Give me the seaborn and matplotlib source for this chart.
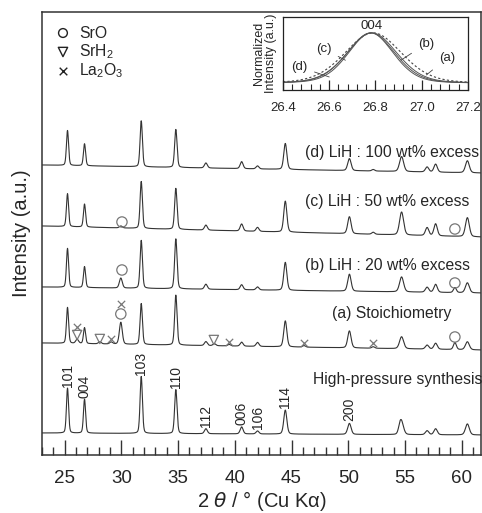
import numpy as np
import pandas as pd
import seaborn as sns
import matplotlib.pyplot as plt
from matplotlib.ticker import MultipleLocator

# reflections of the main phase (2theta in deg) and their widths
peak_pos = [25.25, 26.75, 31.75, 34.8, 37.45, 40.6, 42.0, 44.45, 50.1, 54.7, 56.95, 57.7, 60.5]
peak_fwhm = [0.22, 0.22, 0.24, 0.25, 0.3, 0.3, 0.3, 0.32, 0.35, 0.42, 0.35, 0.35, 0.4]
hkl = ["101", "004", "103", "110", "112", "006", "106", "114", "200"]
hkl_pos = [25.25, 26.75, 31.75, 34.8, 37.45, 40.6, 42.0, 44.45, 50.1]

# peak heights (arb. units)
hp_height = [45, 34, 57, 44, 5, 7, 3, 24, 11, 12, 4, 6, 11]
a_height = [36, 16, 41, 50, 4, 4, 4, 26, 17, 12, 4, 6, 8]
b_height = [39, 21, 48, 50, 5, 5, 3, 28, 17, 15, 5, 8, 10]
c_height = [33, 23, 47, 41, 5, 7, 4, 31, 17, 23, 8, 12, 19]
d_height = [35, 22, 46, 38, 5, 7, 3, 26, 12, 15, 5, 8, 12]

# impurity peaks (position, height)
hp_extra = [(54.55, 5)]
a_extra = [(26.1, 4), (28.1, 2), (29.1, 2), (29.95, 22), (38.2, 2), (39.5, 1.5), (46.1, 1.5), (52.2, 1.5), (59.4, 7)]
b_extra = [(29.95, 10), (59.4, 5)]
c_extra = [(29.95, 2), (52.2, 2)]
d_extra = [(52.2, 1.5)]

names = ["High-pressure synthesis", "(a) Stoichiometry", "(b) LiH : 20 wt% excess",
         "(c) LiH : 50 wt% excess", "(d) LiH : 100 wt% excess"]
heights = [hp_height, a_height, b_height, c_height, d_height]
extras = [hp_extra, a_extra, b_extra, c_extra, d_extra]
base_left = [22, 112, 168, 229, 290]
base_right = [20, 105, 162, 218, 282]
label_x = [46.9, 48.6, 46.15, 46.15, 46.15]
label_y = [75, 141, 189, 253, 302]

# impurity markers
sro_x = [29.95, 59.4, 30.05, 59.4, 30.05, 59.4]
sro_y = [141, 118, 185, 172, 233, 226]
srh2_x = [26.1, 28.1, 38.15]
srh2_y = [120, 116, 115]
la2o3_x = [26.1, 29.1, 29.95, 39.5, 46.1, 52.2]
la2o3_y = [128, 116, 151, 113, 112, 112]

# inset: normalized 004 peak
inset_names = ["(a)", "(b)", "(c)", "(d)"]
inset_center = [26.79, 26.785, 26.78, 26.78]
inset_fwhm = [0.29, 0.255, 0.245, 0.23]


def profile(x, pos, h, w):
    g = np.exp(-4 * np.log(2) * ((x - pos) / w) ** 2)
    lo = 1 / (1 + 4 * ((x - pos) / w) ** 2)
    return h * (0.75 * g + 0.25 * lo)


sns.set_style("ticks")
plt.rcParams['font.family'] = ['Liberation Sans', 'DejaVu Sans']
plt.rcParams['mathtext.default'] = 'regular'

fig = plt.figure(figsize=(4.82, 5.13), dpi=100)
ax = fig.add_axes([0.0871, 0.1131, 0.9108, 0.8635])

x = np.linspace(23, 61.7, 4000)
for i, name in enumerate(names):
    y = base_left[i] + (base_right[i] - base_left[i]) * (x - 23) / (61.7 - 23)
    for p, h, w in zip(peak_pos, heights[i], peak_fwhm):
        y = y + profile(x, p, h, w)
    for p, h in extras[i]:
        y = y + profile(x, p, h, 0.3)
    df = pd.DataFrame({"two_theta": x, "intensity": y})
    sns.lineplot(data=df, x="two_theta", y="intensity", ax=ax, color="#333333", lw=0.8)
    ax.text(label_x[i], label_y[i], name, fontsize=11.3, ha="left", va="center")

for p, lab in zip(hkl_pos, hkl):
    j = peak_pos.index(p)
    ax.text(p, base_left[0] + hp_height[j] + 1, lab, rotation=90, fontsize=10,
            ha="center", va="bottom")

sns.scatterplot(x=sro_x, y=sro_y, ax=ax, marker="o", s=55, facecolor="none",
                edgecolor="#777777", linewidth=0.9, zorder=3)
sns.scatterplot(x=srh2_x, y=srh2_y, ax=ax, marker="v", s=45, facecolor="none",
                edgecolor="#777777", linewidth=0.9, zorder=3)
sns.scatterplot(x=la2o3_x, y=la2o3_y, ax=ax, marker="x", s=28, color="#777777",
                linewidth=0.9, zorder=3)

# key in the upper left
key_y = [422, 403, 384]
sns.scatterplot(x=[24.85], y=[key_y[0]], ax=ax, marker="o", s=40, facecolor="none",
                edgecolor="#222222", linewidth=1.0)
sns.scatterplot(x=[24.85], y=[key_y[1]], ax=ax, marker="v", s=45, facecolor="none",
                edgecolor="#222222", linewidth=1.0)
sns.scatterplot(x=[24.85], y=[key_y[2]], ax=ax, marker="x", s=30, color="#222222",
                linewidth=1.0)
for txt, yy in zip(["SrO", "SrH$_2$", "La$_2$O$_3$"], key_y):
    ax.text(26.25, yy, txt, fontsize=11.3, va="center", ha="left")

ax.set_xlim(23, 61.7)
ax.set_ylim(0, 443)
ax.xaxis.set_major_locator(MultipleLocator(5))
ax.xaxis.set_minor_locator(MultipleLocator(1))
ax.tick_params(axis="x", which="major", direction="in", length=11, width=1,
               labelsize=13.5, pad=11, color="#333333")
ax.tick_params(axis="x", which="minor", direction="in", length=6, width=1, color="#333333")
ax.set_yticks([])
ax.set_xlabel("2 $\\it{\\theta}$ / ° (Cu K\u03b1)", fontsize=14.5, labelpad=1)
ax.set_ylabel("Intensity (a.u.)", fontsize=14.5, labelpad=8)
for s in ax.spines.values():
    s.set_linewidth(1.1)
    s.set_color("#333333")

# inset
ins = fig.add_axes([0.5871, 0.8236, 0.3838, 0.1433])
xi = np.linspace(26.4, 27.2, 400)
for k, nm in enumerate(inset_names):
    yi = profile(xi, inset_center[k], 1.0, inset_fwhm[k])
    if nm == "(a)":
        sns.lineplot(x=xi, y=yi, ax=ins, color="#444444", lw=0.8, linestyle=(0, (2, 2)))
    else:
        sns.lineplot(x=xi, y=yi, ax=ins, color="#555555", lw=0.7)

ins.text(26.785, 1.02, "004", fontsize=9.5, ha="center", va="bottom")
ann = {"(a)": ((27.11, 0.5), (27.02, 0.17)),
       "(b)": ((27.02, 0.79), (26.91, 0.46)),
       "(c)": ((26.575, 0.69), (26.67, 0.46)),
       "(d)": ((26.47, 0.33), (26.6, 0.13))}
for nm, (tp, ep) in ann.items():
    ins.annotate(nm, xy=ep, xytext=tp, fontsize=9.5, ha="center", va="center",
                 arrowprops=dict(arrowstyle="-", lw=0.6, color="#444444",
                                 shrinkA=3, shrinkB=0))
ins.set_xlim(26.4, 27.2)
ins.set_ylim(-0.137, 1.314)
ins.xaxis.set_major_locator(MultipleLocator(0.2))
ins.xaxis.set_minor_locator(MultipleLocator(0.04))
ins.tick_params(axis="x", which="major", direction="in", length=7, width=0.9, labelsize=9.5, pad=8)
ins.tick_params(axis="x", which="minor", direction="in", length=4, width=0.8)
ins.set_yticks([])
ins.set_xlabel("")
ins.set_ylabel("Normalized\nIntensity (a.u.)", fontsize=9, labelpad=4, linespacing=1.0)
for s in ins.spines.values():
    s.set_linewidth(0.9)
    s.set_color("#222222")

fig.savefig("out.png", dpi=100)
